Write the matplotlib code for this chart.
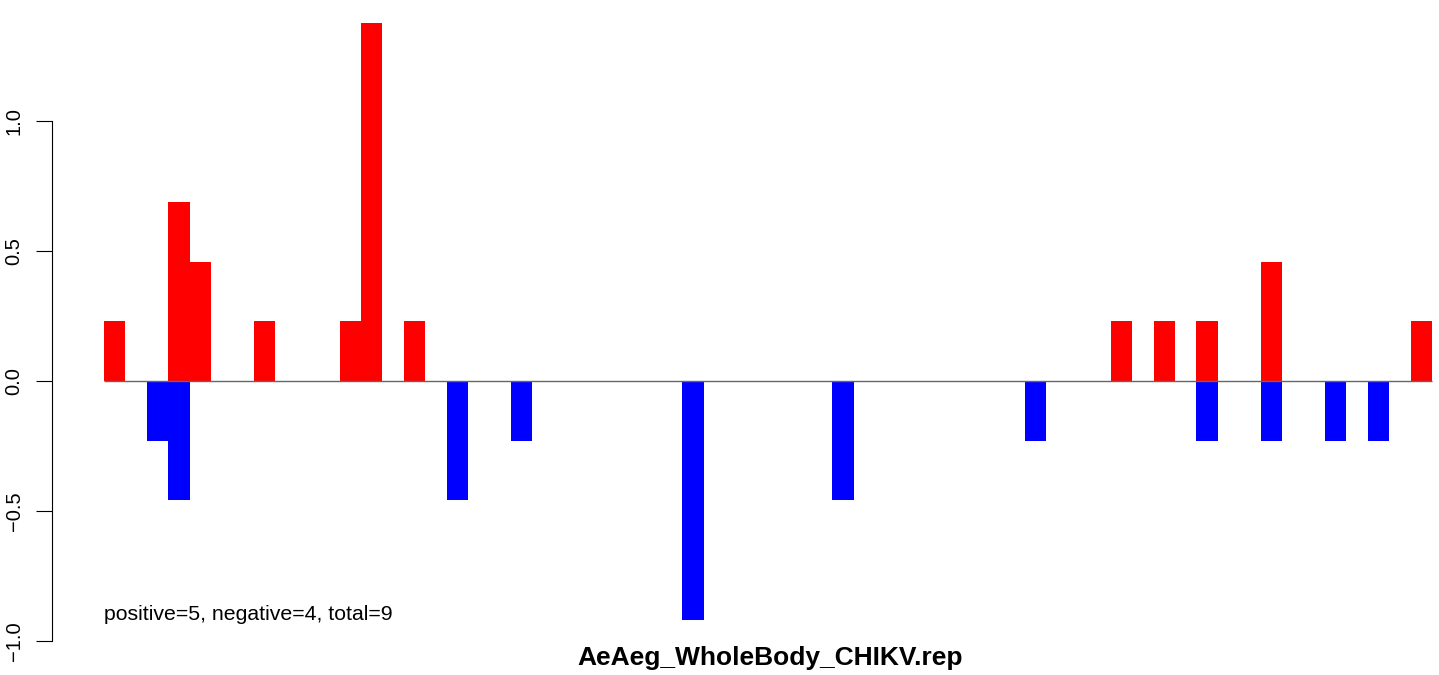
import matplotlib.pyplot as plt

plt.rcParams['font.family'] = ['Liberation Sans', 'DejaVu Sans']

# slot index of each bar and its value
pos_slots = [0, 3, 4, 7, 11, 12, 14, 47, 49, 51, 54, 61]
pos_values = [0.229, 0.688, 0.459, 0.229, 0.229, 1.377, 0.229, 0.229, 0.229, 0.229, 0.459, 0.229]
neg_slots = [2, 3, 16, 19, 27, 34, 43, 51, 54, 57, 59]
neg_values = [-0.229, -0.459, -0.459, -0.229, -0.918, -0.459, -0.229, -0.229, -0.229, -0.229, -0.229]
n_slots = 62

y_ticks = [-1.0, -0.5, 0.0, 0.5, 1.0]
y_tick_labels = ['\u22121.0', '\u22120.5', '0.0', '0.5', '1.0']
summary = 'positive=5, negative=4, total=9'
sample_name = 'AeAeg_WholeBody_CHIKV.rep'

W, H = 1439, 675
fig = plt.figure(figsize=(W / 100, H / 100), dpi=100)

# pixel layout of the plot region
left_px, right_px, top_px, bottom_px = 52, 1439, 5, 660
slot_px, first_px = 21.42, 104
zero_px, unit_px = 381, 260

ax = fig.add_axes([left_px / W, (H - bottom_px) / H,
                   (right_px - left_px) / W, (bottom_px - top_px) / H])

ax.bar(pos_slots, pos_values, width=1, align='edge', color='#ff0000', linewidth=0)
ax.bar(neg_slots, neg_values, width=1, align='edge', color='#0000ff', linewidth=0)
ax.hlines(0, 0, n_slots, color='#666666', linewidth=1, zorder=5)

ax.set_xlim((left_px - first_px) / slot_px, (right_px - first_px) / slot_px)
ax.set_ylim((zero_px - bottom_px) / unit_px, (zero_px - top_px) / unit_px)

for side in ['top', 'right', 'bottom']:
    ax.spines[side].set_visible(False)
ax.spines['left'].set_bounds(-1, 1)
ax.spines['left'].set_linewidth(0.8)
ax.set_xticks([])
ax.set_yticks(y_ticks)
ax.set_yticklabels(y_tick_labels, rotation=90, va='center', fontsize=14.5)
ax.tick_params(axis='y', length=11.5, width=0.8, pad=9)

ax.text(0, -0.92, summary, fontsize=15.3, ha='left', va='baseline')
fig.text(770 / W, 1 - 665 / H, sample_name, fontsize=19, fontweight='bold',
         ha='center', va='baseline')

fig.savefig('out.png', dpi=100)
